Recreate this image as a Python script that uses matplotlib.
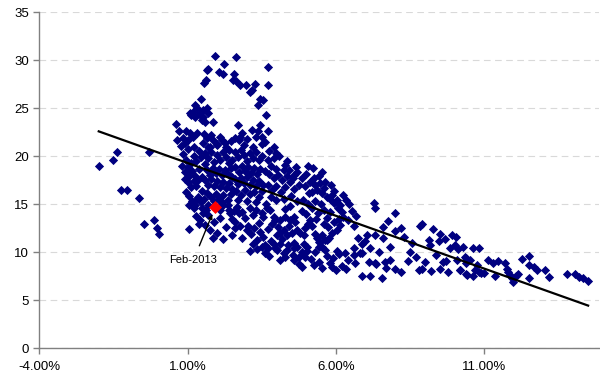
import matplotlib
matplotlib.use("Agg")
import matplotlib.pyplot as plt
import numpy as np

# ---- data (x in %, y value) ----
left_pts = [(-1.99,19.0),(-1.52,19.6),(-1.38,20.4),(-0.29,20.45),(-1.25,16.5),(-1.04,16.5),
            (-0.64,15.7),(-0.14,13.4),(-0.48,12.95),(-0.04,12.5),(0.03,11.9),(1.05,12.45)]

plume_pts = [(1.94,30.5),(2.64,30.3),(2.22,29.6),(3.73,29.3),(1.65,29.0),(1.70,29.06),(2.07,28.8),
             (2.19,28.6),(2.57,28.6),(2.53,28.0),(2.64,27.8),(2.76,27.4),(2.98,27.4),(3.28,27.5),
             (3.70,27.4),(1.62,28.0),(1.56,27.6),(3.11,26.7),(3.17,26.9),(3.43,26.0),(3.54,25.9),
             (3.39,25.3),(1.45,26.0),(1.25,25.3),(1.33,25.0),(1.17,24.65),(1.11,24.3),(1.24,24.1),
             (1.40,24.4),(1.53,24.8),(1.65,25.0),(1.70,24.5),(1.51,24.1),(1.48,23.8),(1.59,23.6),
             (1.85,23.6),(0.61,23.4),(0.72,22.6),(0.64,21.7),(0.86,21.9),(0.95,22.6),(1.08,22.4),
             (1.17,22.0),(1.33,22.4),(0.77,21.1),(0.92,21.35),(1.03,21.7),(2.70,23.3),(3.45,23.3),
             (3.17,22.7),(3.51,22.0),(3.39,22.6),(3.65,24.3),(2.77,22.0),(2.72,21.7),(2.10,22.0),
             (2.15,21.7),(1.87,21.7),(1.65,21.9),(1.53,21.35),(1.76,21.0),(1.99,21.2),(2.27,21.35),
             (1.08,24.5),(1.55,22.3),(1.80,22.2),(2.45,21.6),(2.60,21.9),(2.85,22.4),(3.00,21.8),
             (3.30,22.0),(3.60,21.5),(3.75,20.6),(3.90,21.0),(4.00,20.3),(3.70,22.6)]

core_a = [(0.85,20.2),(0.95,19.6),(1.0,18.9),(0.9,18.4),(1.05,18.0),(0.8,19.0),(1.1,19.3),(1.2,20.0),
          (1.3,19.5),(1.15,18.5),(1.25,18.0),(1.0,17.3),(1.1,16.8),(0.95,16.3),(1.2,17.4),(1.3,16.9),
          (1.05,15.9),(1.35,15.8),(1.4,18.7),(1.45,19.9),(1.4,20.6),(1.5,17.8),(1.5,16.4),(1.45,15.2),
          (1.0,20.8),(1.2,21.0),(0.9,17.6),(1.6,19.2),(1.35,17.5)]

core_b = [(1.6,20.3),(1.7,19.8),(1.8,20.5),(1.9,19.4),(2.0,20.1),(2.1,19.6),(2.2,20.4),(2.3,19.9),
          (2.4,19.3),(1.65,18.6),(1.75,18.1),(1.85,18.8),(1.95,18.3),(2.05,18.7),(2.15,18.1),
          (2.25,18.6),(2.35,18.2),(2.45,18.8),(1.6,17.5),(1.7,17.0),(1.8,17.6),(1.9,16.9),(2.0,17.4),
          (2.1,16.8),(2.2,17.3),(2.3,16.7),(2.4,17.2),(2.5,16.6),(1.65,16.2),(1.8,15.8),(1.95,16.1),
          (2.05,15.6),(2.2,16.0),(2.35,15.5),(2.45,16.1),(1.55,15.6),(2.5,17.8),(2.5,19.6),(1.7,21.0),
          (2.0,21.3),(2.3,21.0),(2.4,20.7),(1.9,15.3),(2.15,15.2)]

core_c = [(2.6,20.5),(2.7,19.9),(2.8,20.7),(2.9,20.1),(3.0,19.5),(3.1,20.3),(3.2,19.8),(3.3,20.4),
          (3.4,19.6),(3.5,20.0),(2.6,18.9),(2.75,18.4),(2.85,19.0),(2.95,18.5),(3.05,18.9),(3.15,18.3),
          (3.25,18.8),(3.35,18.2),(3.45,18.7),(2.6,17.6),(2.7,17.1),(2.8,17.7),(2.9,17.2),(3.0,17.8),
          (3.1,17.0),(3.2,17.5),(3.3,16.9),(3.4,17.4),(3.55,17.0),(2.65,16.4),(2.8,16.0),(2.95,16.5),
          (3.1,16.1),(3.25,16.3),(3.4,15.8),(3.5,16.4),(2.7,15.4),(3.0,15.3),(3.3,15.2),(2.9,21.2),
          (3.2,21.0),(3.5,21.3),(3.6,18.5)]

core_d = [(3.7,19.6),(3.8,19.0),(3.9,19.8),(4.0,18.7),(3.75,18.2),(3.9,17.7),(4.05,18.1),(4.2,17.5),
          (3.7,17.0),(3.85,16.5),(4.0,16.9),(4.15,16.3),(4.3,16.8),(4.45,17.3),(4.6,16.6),(4.75,17.0),
          (3.8,15.8),(4.0,15.4),(4.25,15.6),(4.5,15.9),(4.7,15.3),(4.35,18.0),(4.55,17.7),
          (4.10,20.0),(4.37,19.5),(4.29,19.1),(4.24,18.6),(4.41,18.6),(4.67,18.9),(4.69,18.4),(4.58,18.05)]

low_left = [(1.42,13.4),(1.40,13.0),(1.14,15.3),(1.31,15.6),(1.25,14.9),(1.06,14.9),(1.20,14.6),
            (1.53,14.1),(1.70,13.9),(1.62,14.4),(2.10,14.4),(2.21,14.9),(2.38,14.9),(2.44,14.1),
            (2.49,13.5),(2.66,14.75),(2.72,14.1),(2.83,14.2),(2.77,12.7),(3.0,12.3),(2.61,13.2),
            (1.5,14.6),(1.6,12.8),(1.75,12.3),(1.9,13.2),(2.0,12.0),(2.1,13.6),(2.3,12.6),(2.2,11.4),
            (2.5,11.8),(2.6,12.5),(2.4,14.4),(1.3,13.8),(1.85,11.5),(2.95,13.6),(2.85,11.5),(2.05,14.8),
            (1.7,14.9),(2.55,14.3)]

low_mid = [(3.1,14.6),(3.2,13.9),(3.3,14.4),(3.4,13.1),(3.5,14.1),(3.05,12.7),(3.15,11.9),(3.25,12.5),
           (3.35,11.3),(3.45,12.1),(3.55,11.6),(3.2,10.9),(3.35,10.3),(3.5,10.6),(3.6,9.9),(3.7,12.4),
           (3.8,11.2),(3.85,12.9),(3.95,10.5),(4.05,12.6),(4.2,11.4),(4.3,14.5),(4.45,14.8),(3.65,15.0),
           (3.1,10.1),(3.75,9.6),(4.4,10.8),(4.6,11.0),(4.7,10.6),(4.55,9.7),(4.75,9.5),(4.85,10.0),
           (3.68,14.6),(3.79,14.4),(3.56,13.7),(3.90,13.7),(3.96,13.4),(4.13,13.4),(4.29,13.7),
           (4.46,13.4),(4.58,13.7),(4.63,13.2),(4.41,12.7),(4.24,12.3),(4.13,12.0),(4.01,11.8),
           (4.35,11.8),(4.52,12.0),(4.69,12.3),(4.80,12.0),(4.92,11.8),(4.13,10.9),(3.90,10.9),
           (3.73,10.4),(3.62,10.8),(4.01,10.2),(4.24,9.9),(4.35,10.2),(4.58,10.4),(4.13,9.2),(4.29,9.5)]

mid_pts = [(5.23,18.75),(5.45,17.9),(5.25,17.7),(5.14,17.35),(5.31,17.0),(5.48,17.2),(5.59,16.7),
           (5.37,16.5),(5.20,16.3),(5.53,16.15),(5.70,15.8),(5.87,16.0),(6.04,15.45),(5.93,15.1),
           (5.81,15.6),(6.15,14.9),(6.35,15.5),(6.09,14.6),(6.21,14.2),(6.26,13.7),(6.43,13.4),
           (6.60,12.7),(6.15,12.85),(6.04,12.3),(5.87,12.0),(5.76,11.5),(5.65,11.3),(5.48,11.1),
           (5.42,10.6),(5.53,10.6),(5.14,13.4),(5.08,13.0),(5.20,12.7),(4.92,10.9),(5.03,10.6),
           (5.37,11.5),(5.53,11.8),(5.42,11.1),(5.70,11.3),(5.03,10.1),(4.86,8.5),(5.87,8.5),(6.04,10.1),
           (4.85,17.7),(4.95,16.9),(5.0,18.2),(4.9,15.5),(5.05,15.0),(5.1,16.2),(5.2,14.6),(5.3,15.3),
           (5.4,14.1),(5.5,15.0),(5.6,14.4),(5.7,13.6),(5.8,14.2),(5.35,13.5),(5.6,12.9),(5.0,14.0),
           (4.85,14.3),(4.95,12.5),(5.3,11.9),(5.75,12.6),(5.95,13.2),(6.1,13.5),(5.05,19.0),
           (5.55,18.4),(5.65,17.3),(5.85,17.0),(5.95,16.4),(6.25,16.0),(6.45,15.0),(6.55,14.3),
           (6.7,13.8),(4.6,9.2),(4.75,8.8),(4.95,9.5),(5.15,9.3),(5.3,10.0),(5.45,9.0),(5.55,8.4),
           (5.7,9.6),(5.8,8.9),(5.9,9.4),(6.0,8.2),(6.1,9.8),(6.2,8.6),(6.35,8.3),(5.25,8.7),(5.65,10.2)]

right_pts = [(6.32,9.9),(6.43,9.2),(6.60,9.7),(6.66,8.85),(6.83,9.9),(7.11,9.0),(7.33,8.85),
             (7.28,15.1),(7.33,14.6),(7.05,11.8),(7.33,11.8),(7.99,14.1),(8.20,12.5),(8.85,12.7),
             (7.59,11.5),(7.84,10.6),(6.89,9.9),(8.57,11.0),(9.14,11.3),(9.19,10.8),(9.47,11.2),
             (9.53,11.9),(9.93,11.8),(10.07,11.6),(10.02,10.8),(10.12,10.3),(7.37,8.8),(7.67,9.0),
             (7.82,9.2),(8.44,9.1),(6.89,7.5),(7.14,7.5),(7.56,7.35),(8.20,7.9),(8.80,8.15),(8.91,8.3),
             (9.22,8.1),(9.51,8.3),(9.78,7.9),(10.21,8.15),(9.62,9.0),(9.73,9.1),(10.09,9.2),(10.41,9.4),
             (10.54,9.2),(10.43,7.6),(10.65,7.5),(10.82,8.0),(10.65,10.4),(10.82,10.4),(10.38,9.5),
             (10.21,8.2),(10.41,7.7),(10.71,8.15),(10.77,8.7),(10.9,7.8),(11.0,7.8),(11.14,9.2),
             (11.31,8.9),(11.47,9.1),(11.70,8.85),(11.78,8.3),(11.80,8.0),(11.87,7.6),(11.37,7.5),
             (11.95,7.3),(12.0,6.95),(12.1,7.5),(12.14,7.7),(12.29,9.3),(12.54,9.65),(12.51,8.7),
             (12.68,8.5),(12.80,8.2),(13.08,8.2),(13.19,7.4),(12.51,7.3),(13.79,7.75),(14.09,7.75),
             (14.2,7.45),(14.35,7.3),(14.52,7.0),(6.9,10.9),(7.0,11.2),(7.15,10.4),(7.45,10.0),
             (7.6,12.6),(7.75,13.3),(8.0,12.2),(8.3,11.6),(8.5,10.0),(8.7,9.5),(8.0,8.3),(7.7,8.4),
             (6.75,11.5),(6.6,10.5),(8.9,13.0),(9.3,12.4),(9.7,11.4),(9.85,10.4),(10.3,10.6),
             (10.4,8.9),(9.4,9.7),(9.0,9.0)]

highlight_x = [1.93]
highlight_y = [14.75]
highlight_label = "Feb-2013"

trend_x = [-2.0, 14.52]
trend_y = [22.6, 4.45]

x_ticks = [-4, 1, 6, 11]
x_tick_labels = ["-4.00%", "1.00%", "6.00%", "11.00%"]
y_ticks = [0, 5, 10, 15, 20, 25, 30, 35]

groups = [left_pts, plume_pts, core_a, core_b, core_c, core_d, low_left, low_mid, mid_pts, right_pts]
all_pts = np.array([p for g in groups for p in g])

plt.rcParams['font.family'] = ['Liberation Sans', 'DejaVu Sans']

fig = plt.figure(figsize=(6.0, 3.85), dpi=100)
ax = fig.add_axes([0.0658, 0.0953, 0.9317, 0.8727])

ax.scatter(all_pts[:, 0], all_pts[:, 1], marker='D', s=22, color='#000080',
           linewidths=0, zorder=3)
ax.plot(trend_x, trend_y, color='black', lw=1.6, zorder=4)
ax.scatter(highlight_x, highlight_y, marker='D', s=44, color='#ff0000', linewidths=0, zorder=5)

ax.annotate(highlight_label, xy=(highlight_x[0] - 0.1, highlight_y[0] - 0.8),
            xytext=(1.2, 9.2), ha='center', va='center', fontsize=8,
            arrowprops=dict(arrowstyle='-|>', color='black', lw=1.0,
                            mutation_scale=6, shrinkA=5, shrinkB=0), zorder=6)

ax.set_xlim(-4, 14.87)
ax.set_ylim(0, 35)
ax.set_xticks(x_ticks)
ax.set_xticklabels(x_tick_labels)
ax.set_yticks(y_ticks)

ax.yaxis.grid(True, color='#d9d9d9', linestyle=(0, (6, 4)), lw=0.8)
ax.set_axisbelow(True)

for s in ['top', 'right']:
    ax.spines[s].set_visible(False)
for s in ['left', 'bottom']:
    ax.spines[s].set_color('#808080')
    ax.spines[s].set_linewidth(1.0)

ax.tick_params(axis='both', colors='#808080', labelcolor='black', labelsize=9.5,
               length=4, width=1.0, direction='out')
ax.tick_params(axis='x', pad=5)

fig.savefig("out.png", dpi=100)
